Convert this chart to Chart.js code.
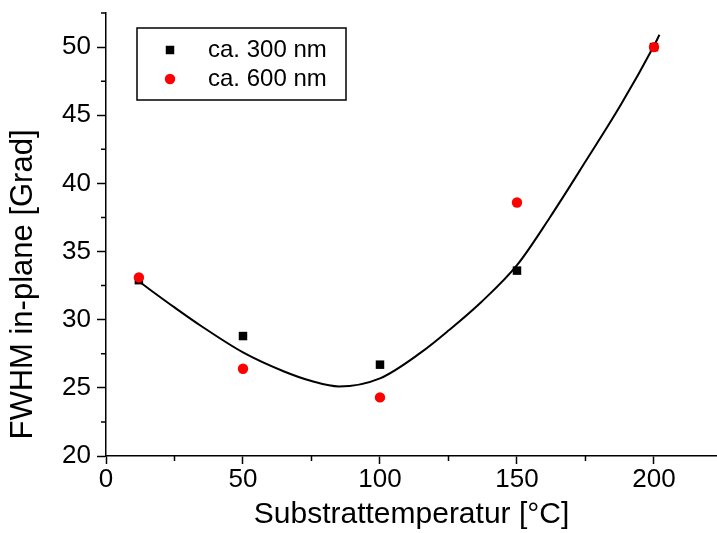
<!DOCTYPE html>
<html>
<head>
<meta charset="utf-8">
<script src="https://cdn.jsdelivr.net/npm/chart.js@4.4.1/dist/chart.umd.min.js"></script>
<style>
  html, body { margin: 0; padding: 0; background: #fff; }
  #wrap { width: 717px; height: 533px; }
</style>
</head>
<body>
<div id="wrap"><canvas id="fwhmChart" width="717" height="533"></canvas></div>
<script>
// Substrate temperature (°C) and in-plane FWHM (deg) for the two film thicknesses
const temps = [12, 50, 100, 150, 200];
const fwhm300 = [32.9, 28.8, 26.7, 33.6, 50.0];
const fwhm600 = [33.1, 26.4, 24.3, 38.6, 50.0];

// fitted trend line, sampled along the curve
const fitTemps = [12, 25, 35, 50, 65, 75, 85, 100, 115, 125, 137, 150, 162, 175, 188, 200, 202];
const fitFwhm = [32.8, 30.9, 29.5, 27.6, 26.2, 25.5, 25.1, 25.7, 27.6, 29.2, 31.3, 34.0, 37.5, 41.6, 45.8, 50.1, 50.9];

const xTicks = [0, 50, 100, 150, 200];
const yTicks = [20, 25, 30, 35, 40, 45, 50];

const xTitle = 'Substrattemperatur [°C]';
const yTitle = 'FWHM in-plane [Grad]';

const labelFont = "'Liberation Sans', Arial, sans-serif";

const toXY = (xs, ys) => xs.map((x, i) => ({ x: x, y: ys[i] }));

// small unlabelled ticks half way between the labelled ones
const minorTicks = {
  id: 'minorTicks',
  afterDraw(chart) {
    const ctx = chart.ctx;
    const xs = chart.scales.x, ys = chart.scales.y;
    ctx.save();
    ctx.strokeStyle = '#000';
    ctx.lineWidth = 1.5;
    ctx.beginPath();
    for (let v = 25; v <= xs.max; v += 50) {
      const px = xs.getPixelForValue(v);
      ctx.moveTo(px, xs.top);
      ctx.lineTo(px, xs.top + 5);
    }
    for (let v = 22.5; v <= ys.max + 0.01; v += 5) {
      const py = ys.getPixelForValue(v);
      ctx.moveTo(ys.right, py);
      ctx.lineTo(ys.right - 5, py);
    }
    ctx.stroke();
    ctx.restore();
  }
};

// rotated y title, sitting a bit below the middle of the axis
const sideTitle = {
  id: 'sideTitle',
  afterDraw(chart) {
    const ctx = chart.ctx;
    const area = chart.chartArea;
    ctx.save();
    ctx.translate(23, (area.top + area.bottom) / 2 + 50);
    ctx.rotate(-Math.PI / 2);
    ctx.fillStyle = '#000';
    ctx.font = '31px ' + labelFont;
    ctx.textAlign = 'center';
    ctx.textBaseline = 'middle';
    ctx.fillText(yTitle, 0, 0);
    ctx.restore();
  }
};

// framed legend inside the plot area
const boxLegend = {
  id: 'boxLegend',
  afterDatasetsDraw(chart) {
    const ctx = chart.ctx;
    const area = chart.chartArea;
    const left = area.left + 31, top = area.top + 15;
    const w = 209, h = 72;
    ctx.save();
    ctx.fillStyle = '#fff';
    ctx.fillRect(left, top, w, h);
    ctx.strokeStyle = '#000';
    ctx.lineWidth = 1.5;
    ctx.strokeRect(left, top, w, h);
    const entries = chart.data.datasets.filter(d => d.inLegend);
    entries.forEach((d, i) => {
      const cy = top + 22 + i * 29;
      ctx.fillStyle = d.backgroundColor;
      Chart.helpers.drawPoint(ctx, {
        pointStyle: d.pointStyle, radius: d.pointRadius, rotation: 0, borderWidth: 0
      }, left + 33, cy);
      ctx.fillStyle = '#000';
      ctx.font = '24px ' + labelFont;
      ctx.textBaseline = 'middle';
      ctx.textAlign = 'left';
      ctx.fillText(d.label, left + 71, cy);
    });
    ctx.restore();
  }
};

new Chart(document.getElementById('fwhmChart'), {
  type: 'scatter',
  data: {
    datasets: [
      {
        label: 'ca. 300 nm',
        inLegend: true,
        data: toXY(temps, fwhm300),
        pointStyle: 'rect',
        pointRadius: 6,
        pointHoverRadius: 6,
        backgroundColor: '#000',
        borderWidth: 0,
        order: 2
      },
      {
        label: 'ca. 600 nm',
        inLegend: true,
        data: toXY(temps, fwhm600),
        pointStyle: 'circle',
        pointRadius: 5.2,
        pointHoverRadius: 5.2,
        backgroundColor: '#f00',
        borderWidth: 0,
        order: 1
      },
      {
        label: 'fit',
        data: toXY(fitTemps, fitFwhm),
        showLine: true,
        cubicInterpolationMode: 'monotone',
        borderColor: '#000',
        borderWidth: 2,
        pointRadius: 0,
        fill: false,
        order: 3
      }
    ]
  },
  options: {
    responsive: false,
    animation: false,
    layout: { autoPadding: false, padding: { top: 13, right: 0, left: 0, bottom: 0 } },
    plugins: {
      legend: { display: false },
      tooltip: { enabled: false }
    },
    scales: {
      x: {
        type: 'linear',
        min: 0,
        max: 223,
        afterFit: s => {
          s.height = 77;
          s.paddingLeft = 0;
          s.paddingRight = 0;
        },
        afterBuildTicks: s => { s.ticks = xTicks.map(v => ({ value: v })); },
        border: { color: '#000', width: 1.5 },
        grid: { drawOnChartArea: false, drawTicks: true, tickLength: 8, tickWidth: 1.5, tickColor: '#000' },
        ticks: { color: '#000', font: { family: labelFont, size: 26 }, padding: 0, maxRotation: 0 },
        title: {
          display: true,
          text: xTitle,
          color: '#000',
          font: { family: labelFont, size: 30 },
          padding: { top: 0, bottom: 0 }
        }
      },
      y: {
        type: 'linear',
        min: 20,
        max: 52.5,
        afterFit: s => {
          s.width = 106;
          s.paddingTop = 0;
          s.paddingBottom = 0;
        },
        afterBuildTicks: s => { s.ticks = yTicks.map(v => ({ value: v })); },
        border: { color: '#000', width: 1.5 },
        grid: { drawOnChartArea: false, drawTicks: true, tickLength: 9, tickWidth: 1.5, tickColor: '#000' },
        ticks: { color: '#000', font: { family: labelFont, size: 26 }, padding: 6 }
      }
    }
  },
  plugins: [minorTicks, boxLegend, sideTitle]
});
</script>
</body>
</html>
